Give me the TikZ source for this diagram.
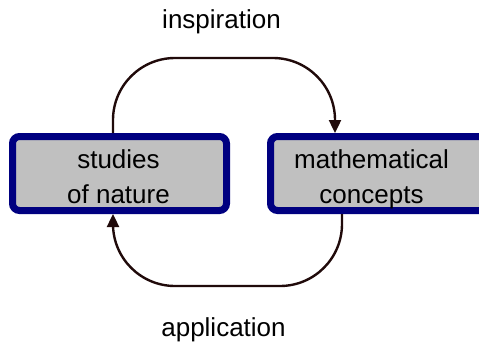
\documentclass[tikz,border=0pt]{standalone}
\usepackage{fontspec}
\setmainfont{Liberation Sans}
\usetikzlibrary{arrows.meta,calc}
\definecolor{boxfill}{HTML}{C0C0C0}
\definecolor{boxline}{HTML}{000080}
\definecolor{arcol}{HTML}{200A0A}
\begin{document}
\begin{tikzpicture}[x=1pt,y=-1pt,
  box/.style={draw=boxline,fill=boxfill,line width=7pt,rounded corners=7pt,
    minimum height=74pt,inner sep=0pt},
  lbl/.style={font=\fontsize{26}{35}\selectfont,align=center,anchor=base,inner sep=0pt},
  conn/.style={draw=arcol,line width=2.4pt,rounded corners=62pt,
    -{Triangle[length=13pt,width=12pt]}}]
\useasboundingbox (0,0) rectangle (479,346);
\clip (0,0) rectangle (479,346);
\node[box,minimum width=214pt] (nat) at (119.5,173.5) {};
\node[box,minimum width=220pt] (math) at (380.5,173.5) {};
\node[lbl] (natT) at (118.5,203) {studies\\of nature};
\node[lbl] (mathT) at (371.5,203) {mathematical\\concepts};
\node[lbl] (insp) at (221.5,28) {inspiration};
\node[lbl] (appl) at (223.5,336.5) {application};
\coordinate (topY) at (0,58);
\coordinate (botY) at (0,286);
\coordinate (a1) at ($(nat.north west)+(104,0)$);
\coordinate (a2) at ($(math.north west)+(68,0)$);
\coordinate (b1) at ($(math.south west)+(75,0)$);
\coordinate (b2) at ($(nat.south west)+(104,0)$);
\draw[conn] (a1) -- (a1|-topY) -- (a2|-topY) -- (a2);
\draw[conn] (b1) -- (b1|-botY) -- (b2|-botY) -- (b2);
\end{tikzpicture}
\end{document}
